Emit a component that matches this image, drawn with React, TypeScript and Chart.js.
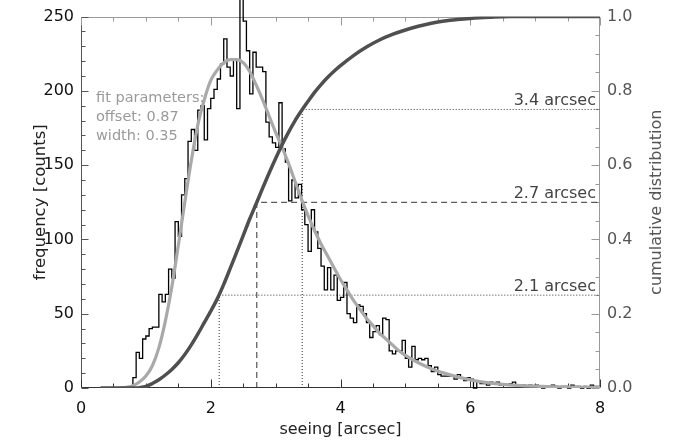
import { useEffect, useRef } from "react";
import { Chart, registerables } from "chart.js";

Chart.register(...registerables);

// ---------- data ----------
const BIN_START = 0.8; // arcsec, left edge of first bin
const BIN_WIDTH = 0.05; // arcsec
const histCounts = [
  0, 7, 24, 20, 33, 35, 40, 41, 41, 63, 58, 63, 80, 74, 112, 102, 130, 141, 166, 174,
  160, 187, 190, 167, 188, 195, 201, 208, 218, 235, 216, 210, 221, 188, 262, 247, 227, 198, 226, 216,
  216, 213, 179, 169, 165, 162, 192, 161, 152, 126, 140, 128, 137, 120, 110, 92, 120, 105, 94, 82,
  66, 81, 66, 76, 59, 61, 71, 50, 47, 44, 56, 55, 50, 44, 34, 38, 42, 36, 47, 46,
  25, 23, 25, 25, 32, 20, 14, 28, 19, 20, 19, 20, 15, 11, 14, 9, 8, 8, 8, 8,
  6, 9, 7, 5, 7, 6, 0, 4, 3, 3, 2, 4, 3, 4, 2, 3, 2, 3, 4, 2,
  1, 2, 1, 2, 1, 2, 1, 0, 1, 1, 2, 1, 0, 1, 1, 0, 2, 1, 1, 0,
  1, 0, 2, 1,
];

const fitSeeing = [
  0.6, 0.7, 0.8, 0.9, 1.0, 1.1, 1.2, 1.3, 1.4, 1.5, 1.6, 1.7, 1.8, 1.9, 2.0, 2.1, 2.2, 2.3, 2.4, 2.5,
  2.6, 2.7, 2.8, 2.9, 3.0, 3.1, 3.2, 3.3, 3.4, 3.5, 3.6, 3.7, 3.8, 3.9, 4.0, 4.1, 4.2, 4.3, 4.4, 4.5,
  4.6, 4.7, 4.8, 4.9, 5.0, 5.2, 5.4, 5.6, 5.8, 6.0, 6.2, 6.5, 7.0, 7.5, 8.0,
];
const fitCounts = [
  0, 0.5, 1.5, 4, 8, 15, 27, 45, 68, 96, 125, 153, 177, 194, 207, 214, 219, 221, 221, 219,
  213, 204, 194, 183, 172, 162, 151, 139, 127, 116, 106, 97, 89, 81, 73, 66, 59, 53, 47, 42,
  37, 33, 29, 25, 22, 17, 13, 10, 7.5, 5.5, 4, 2.5, 1.2, 0.6, 0.3,
];

const cumSeeing = [
  0.3, 0.85, 0.9, 1.0, 1.1, 1.2, 1.3, 1.4, 1.5, 1.6, 1.7, 1.8, 1.9, 2.0, 2.1, 2.2, 2.3, 2.4, 2.5, 2.6,
  2.7, 2.8, 2.9, 3.0, 3.1, 3.2, 3.3, 3.4, 3.5, 3.6, 3.7, 3.8, 3.9, 4.0, 4.2, 4.4, 4.6, 4.8, 5.0, 5.2,
  5.4, 5.6, 5.8, 6.0, 6.3, 6.6, 8.0,
];
const cumFraction = [
  0, 0, 0.0008, 0.004, 0.012, 0.022, 0.035, 0.05, 0.068, 0.09, 0.116, 0.145, 0.176, 0.207, 0.24, 0.279, 0.322, 0.366, 0.41, 0.455,
  0.496, 0.538, 0.579, 0.618, 0.655, 0.689, 0.72, 0.747, 0.772, 0.796, 0.817, 0.836, 0.853, 0.868, 0.895, 0.918, 0.937, 0.952, 0.964, 0.974,
  0.982, 0.988, 0.992, 0.995, 0.998, 1.0, 1.0,
];

const quantileSeeing = [2.13, 2.71, 3.41];
const quantileLevel = [0.25, 0.5, 0.75];
const quantileLabels = ["2.1 arcsec", "2.7 arcsec", "3.4 arcsec"];
const quantileDash = [[1, 2], [6, 4], [1, 2]];

const fitTextLines = ["fit parameters:", "offset: 0.87", "width: 0.35"];

const X_MIN = 0, X_MAX = 8, X_STEP = 2, X_MINOR = 0.5;
const Y_MAX = 250, Y_STEP = 50, Y_MINOR = 10;
const Y2_MAX = 1, Y2_STEP = 0.2, Y2_MINOR = 0.05;

const FONT = '"DejaVu Sans", "Liberation Sans", sans-serif';

const decorPlugin = {
  id: "decor",
  beforeDatasetsDraw(chart: any) {
    const { ctx, chartArea: a, scales } = chart;
    const sx = scales.x, sy = scales.y, sy2 = scales.y2;
    ctx.save();
    const L = Math.round(a.left) + 0.5, R = Math.round(a.right) - 0.5;
    const T = Math.round(a.top) + 0.5, B = Math.round(a.bottom) - 0.5;
    const seg = (x1: number, y1: number, x2: number, y2: number, c: string) => {
      ctx.strokeStyle = c;
      ctx.lineWidth = 1;
      ctx.beginPath();
      ctx.moveTo(x1, y1);
      ctx.lineTo(x2, y2);
      ctx.stroke();
    };
    seg(L, T, R, T, "#999");
    seg(R, T, R, B, "#999");
    seg(L, T, L, B, "#555");
    seg(L, B, R, B, "#333");
    // x ticks (bottom and top), inward
    for (let i = 0; i <= Math.round((X_MAX - X_MIN) / X_MINOR); i++) {
      const v = X_MIN + i * X_MINOR;
      const px = Math.round(sx.getPixelForValue(v)) + 0.5;
      const major = Math.abs(v / X_STEP - Math.round(v / X_STEP)) < 1e-6;
      const len = major ? 8 : 4;
      seg(px, B, px, B - len, "#333");
      seg(px, T, px, T + len, "#999");
    }
    for (let i = 0; i <= Math.round(Y_MAX / Y_MINOR); i++) {
      const v = i * Y_MINOR;
      const py = Math.round(sy.getPixelForValue(v)) + 0.5;
      const major = v % Y_STEP === 0;
      seg(L, py, L + (major ? 7 : 4), py, "#555");
    }
    for (let i = 0; i <= Math.round(Y2_MAX / Y2_MINOR); i++) {
      const v = i * Y2_MINOR;
      const py = Math.round(sy2.getPixelForValue(v)) + 0.5;
      const major = i % Math.round(Y2_STEP / Y2_MINOR) === 0;
      seg(R, py, R - (major ? 8 : 4), py, "#999");
    }
    ctx.restore();
  },
  afterDraw(chart: any) {
    const { ctx, chartArea: a, scales } = chart;
    const sy2 = scales.y2;
    ctx.save();
    // quantile labels
    ctx.font = `16px ${FONT}`;
    ctx.fillStyle = "#444";
    ctx.textAlign = "right";
    ctx.textBaseline = "alphabetic";
    quantileLabels.forEach((t, i) => {
      ctx.fillText(t, a.right - 4, sy2.getPixelForValue(quantileLevel[i]) - 4);
    });
    // fit parameters
    ctx.font = `14.5px ${FONT}`;
    ctx.fillStyle = "#9a9a9a";
    ctx.textAlign = "left";
    ctx.textBaseline = "middle";
    fitTextLines.forEach((t, i) => ctx.fillText(t, a.left + 15, a.top + 82 + i * 19));
    // axis titles
    ctx.font = `16px ${FONT}`;
    ctx.textAlign = "center";
    ctx.textBaseline = "middle";
    ctx.fillStyle = "#222";
    ctx.fillText("seeing [arcsec]", (a.left + a.right) / 2, 430);
    const cy = (a.top + a.bottom) / 2;
    ctx.save();
    ctx.font = `16.5px ${FONT}`;
    ctx.translate(41, cy);
    ctx.rotate(-Math.PI / 2);
    ctx.fillText("frequency [counts]", 0, 0);
    ctx.restore();
    ctx.save();
    ctx.fillStyle = "#555";
    ctx.translate(657, cy);
    ctx.rotate(-Math.PI / 2);
    ctx.fillText("cumulative distribution", 0, 0);
    ctx.restore();
    ctx.restore();
  },
};

export default function App() {
  const ref = useRef<HTMLCanvasElement | null>(null);
  useEffect(() => {
    document.body.style.margin = "0";
    if (!ref.current) return;
    const histData: { x: number; y: number }[] = histCounts.map((c, k) => ({
      x: BIN_START + k * BIN_WIDTH,
      y: c,
    }));
    histData.push({ x: BIN_START + histCounts.length * BIN_WIDTH, y: histCounts[histCounts.length - 1] });
    const fitData = fitSeeing.map((s, i) => ({ x: s, y: fitCounts[i] }));
    const cumData = cumSeeing.map((s, i) => ({ x: s, y: cumFraction[i] }));
    const quantileSets = quantileSeeing.map((s, i) => ({
      type: "line" as const,
      data: [
        { x: s, y: 0 },
        { x: s, y: quantileLevel[i] },
        { x: X_MAX, y: quantileLevel[i] },
      ],
      yAxisID: "y2",
      borderColor: "#333",
      borderWidth: 1,
      borderDash: quantileDash[i],
      pointRadius: 0,
      fill: false,
      order: 3,
    }));
    const chart = new Chart(ref.current, {
      type: "line",
      data: {
        datasets: [
          {
            data: cumData,
            yAxisID: "y2",
            borderColor: "#4f4f4f",
            borderWidth: 3.5,
            pointRadius: 0,
            cubicInterpolationMode: "monotone",
            fill: false,
            order: 0,
          },
          {
            data: fitData,
            yAxisID: "y",
            borderColor: "#a9a9a9",
            borderWidth: 3.2,
            pointRadius: 0,
            cubicInterpolationMode: "monotone",
            fill: false,
            order: 1,
          },
          {
            data: histData,
            yAxisID: "y",
            borderColor: "#000",
            borderWidth: 1.3,
            pointRadius: 0,
            stepped: "after",
            fill: false,
            clip: false,
            order: 2,
          },
          ...quantileSets,
        ] as any,
      },
      options: {
        animation: false,
        responsive: false,
        devicePixelRatio: 1,
        events: [],
        layout: { padding: { top: 9, left: 0, right: 0, bottom: 0 } },
        plugins: { legend: { display: false }, tooltip: { enabled: false } },
        scales: {
          x: {
            type: "linear",
            min: X_MIN,
            max: X_MAX,
            ticks: { stepSize: X_STEP, font: { family: FONT, size: 16 }, color: "#111", padding: 11, maxRotation: 0 },
            grid: { display: false, drawTicks: false },
            border: { display: false },
            afterFit: (s: any) => { s.height = 54; },
          },
          y: {
            type: "linear",
            position: "left",
            min: 0,
            max: Y_MAX,
            ticks: { stepSize: Y_STEP, font: { family: FONT, size: 16 }, color: "#111", padding: 7 },
            grid: { display: false, drawTicks: false },
            border: { display: false },
            afterFit: (s: any) => { s.width = 81; },
          },
          y2: {
            type: "linear",
            position: "right",
            min: 0,
            max: Y2_MAX,
            ticks: {
              stepSize: Y2_STEP,
              font: { family: FONT, size: 16 },
              color: "#555",
              padding: 7,
              callback: (v: any) => Number(v).toFixed(1),
            },
            grid: { display: false, drawTicks: false },
            border: { display: false },
            afterFit: (s: any) => { s.width = 73; },
          },
        },
      },
      plugins: [decorPlugin],
    });
    return () => chart.destroy();
  }, []);
  return <canvas ref={ref} width={673} height={442} style={{ display: "block" }} />;
}
